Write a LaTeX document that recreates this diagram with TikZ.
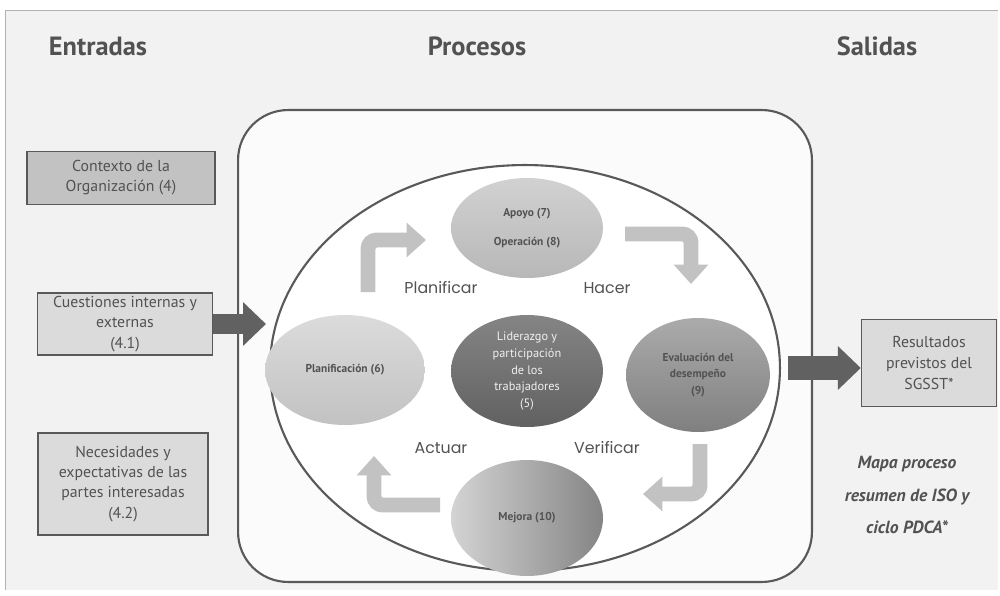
\documentclass[tikz,border=0pt]{standalone}
\usepackage{fontspec}
\setmainfont{PT Sans}
\newfontfamily\pdcafont{Poppins}
\usetikzlibrary{shapes.geometric,arrows.meta}

\definecolor{textgray}{gray}{0.32}
\definecolor{framegray}{gray}{0.35}
\definecolor{bggray}{gray}{0.95}
\definecolor{boxdark}{gray}{0.76}
\definecolor{boxlight}{gray}{0.86}
\definecolor{arrowgray}{gray}{0.76}
\definecolor{blockgray}{gray}{0.38}

\begin{document}
\begin{tikzpicture}[x=0.02cm,y=-0.02cm,
	title node/.style={font=\bfseries\fontsize{15}{18}\selectfont,text=textgray},
	input node/.style={draw=framegray,line width=0.8pt,fill=boxlight,align=center,text=textgray,inner sep=0pt,font=\fontsize{9}{11.5}\selectfont},
	phase node/.style={ellipse,inner sep=0pt,align=center,text=textgray,font=\bfseries\fontsize{6.5}{9.4}\selectfont},
	stage label/.style={font=\pdcafont\fontsize{9}{11}\selectfont,text=textgray},
	bent arrow/.style={draw=arrowgray,line width=8.5pt,rounded corners=5pt,-{Triangle[width=19pt,length=11pt]}},
	block arrow/.style={draw=blockgray,-{Triangle[width=24pt,length=13pt]}}
]

	\useasboundingbox (0,0) rectangle (1000,595);
	\fill[bggray] (5,10) rectangle (998,590);
	\draw[gray!60,line width=0.3pt] (5,590) -- (5,10) -- (998,10);

	% column titles
	\node[title node] (entradas) at (98,46) {Entradas};
	\node[title node] (procesos title) at (477,46) {Procesos};
	\node[title node] (salidas) at (877,46) {Salidas};

	% process frame and cycle
	\node[draw=framegray,line width=1.2pt,fill=gray!3,rounded corners=1cm,minimum width=11.48cm,minimum height=9.44cm] (procesos) at (525,346) {};
	\node[ellipse,draw=framegray,line width=1.2pt,fill=white,minimum width=10.2cm,minimum height=8.12cm] (ciclo) at (525,368) {};

	\node[phase node,top color=black!18,bottom color=black!28,minimum width=3.04cm,minimum height=2cm] (apoyo) at (527,228) {Apoyo (7)\\[7pt]Operación (8)};
	\node[phase node,top color=black!14,bottom color=black!24,minimum width=3.2cm,minimum height=2.2cm] (planificacion) at (345,370) {Planificación (6)};
	\node[phase node,top color=black!48,bottom color=black!62,text=gray!12,font=\fontsize{7}{9.4}\selectfont,minimum width=3.04cm,minimum height=2.24cm] (liderazgo) at (527,371) {Liderazgo y\\participación\\de los\\trabajadores\\(5)};
	\node[phase node,top color=black!33,bottom color=black!50,minimum width=2.88cm,minimum height=2.28cm] (evaluacion) at (698,375) {Evaluación del\\desempeño\\(9)};
	\node[phase node,left color=black!17,right color=black!48,minimum width=3.04cm,minimum height=2.32cm] (mejora) at (527,518) {Mejora (10)};

	% PDCA labels
	\foreach \x/\y/\t in {441/288/Planificar,607/288/Hacer,441/448/Actuar,607/448/Verificar}
		\node[stage label] (\t) at (\x,\y) {\t};

	% bent arrows of the cycle
	\coordinate (p start) at (368,292);
	\coordinate (p tip) at (426,240);
	\coordinate (h start) at (625,234);
	\coordinate (h tip) at (691,284);
	\coordinate (v start) at (700,444);
	\coordinate (v tip) at (643,494);
	\coordinate (a start) at (440,505);
	\coordinate (a tip) at (374,456);
	\draw[bent arrow] (p start) |- (p tip);
	\draw[bent arrow] (h start) -| (h tip);
	\draw[bent arrow] (v start) |- (v tip);
	\draw[bent arrow] (a start) -| (a tip);

	% inputs
	\node[input node,fill=boxdark,minimum width=3.76cm,minimum height=1.06cm] (contexto) at (121,178) {Contexto de la\\Organización (4)};
	\node[input node,minimum width=3.5cm,minimum height=1.24cm] (cuestiones) at (125,324) {Cuestiones internas y\\externas\\(4.1)};
	\node[input node,minimum width=3.4cm,minimum height=2.04cm] (necesidades) at (123,484) {Necesidades y\\expectativas de las\\partes interesadas\\(4.2)};

	% outputs
	\node[input node,font=\fontsize{9}{12}\selectfont,minimum width=2.7cm,minimum height=1.74cm] (resultados) at (929,363) {Resultados\\previstos del\\SGSST*};
	\node[text=textgray,align=center,font=\bfseries\itshape\fontsize{10}{18.7}\selectfont] (mapa) at (907,495) {Mapa proceso\\resumen de ISO y\\ciclo PDCA*};

	\coordinate (in tip) at (266,324);
	\draw[block arrow,line width=11pt] (cuestiones.east) -- (in tip);
	\draw[block arrow,line width=14pt,shorten <=4pt] (ciclo.east) -- (ciclo.east -| resultados.west);
\end{tikzpicture}
\end{document}
